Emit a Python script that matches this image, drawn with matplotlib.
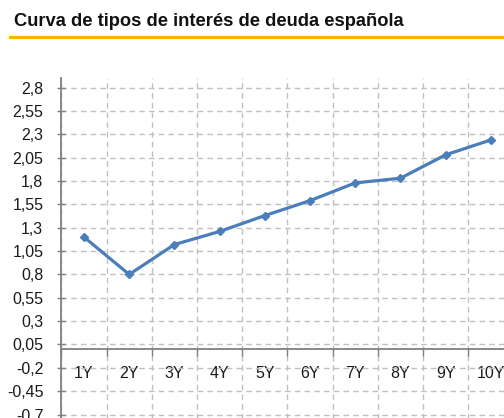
import numpy as np
import matplotlib
matplotlib.use('Agg')
import matplotlib.pyplot as plt
from matplotlib.ticker import FixedLocator, FuncFormatter
from matplotlib.lines import Line2D

# Curva de tipos de deuda española
plazos = ['1Y', '2Y', '3Y', '4Y', '5Y', '6Y', '7Y', '8Y', '9Y', '10Y']
tipos = [1.20, 0.80, 1.12, 1.26, 1.43, 1.59, 1.78, 1.83, 2.08, 2.24]
yticks = [-0.7, -0.45, -0.2, 0.05, 0.3, 0.55, 0.8, 1.05, 1.3, 1.55, 1.8, 2.05, 2.3, 2.55, 2.8]
titulo = 'Curva de tipos de interés de deuda española'

plt.rcParams['font.family'] = ['Liberation Sans', 'DejaVu Sans']

W, H = 504, 418
fig = plt.figure(figsize=(W / 100, H / 100), dpi=100)

# position of the plot area in pixels (it runs past the right edge, like the source)
px_left, px_width = 61.4, 452.0
px_top, px_height = 78.3, 340.9
ax = fig.add_axes([px_left / W, 1 - (px_top + px_height) / H, px_width / W, px_height / H])

x = np.arange(len(plazos))
ax.plot(x, tipos, color='#4A7EBB', lw=2.3, marker='D', ms=4.5, zorder=3, clip_on=False)

ax.set_xlim(-0.5, len(plazos) - 0.5)
ax.set_ylim(-0.75, 2.9)

ax.yaxis.set_major_locator(FixedLocator(yticks))
ax.yaxis.set_major_formatter(FuncFormatter(lambda v, p: ('%g' % round(v, 2)).replace('.', ',')))
ax.set_xticks(x)
ax.set_xticklabels(plazos)
ax.xaxis.set_minor_locator(FixedLocator(np.arange(len(plazos) + 1) - 0.5))

for s in ['top', 'right']:
    ax.spines[s].set_visible(False)
ax.spines['bottom'].set_position(('data', 0))
for s in ['left', 'bottom']:
    ax.spines[s].set_color('#808080')
    ax.spines[s].set_linewidth(1.3)

ax.tick_params(axis='y', which='major', direction='inout', length=6, width=1,
               color='#808080', labelsize=11.5, labelcolor='#1a1a1a', pad=10)
ax.tick_params(axis='x', which='major', length=0, labelsize=11.5, labelcolor='#1a1a1a', pad=12)
ax.tick_params(axis='x', which='minor', direction='out', length=5, width=1, color='#808080')

ax.grid(True, axis='y', which='major', color='#C0C0C0', ls=(0, (4, 3)), lw=1)
ax.grid(True, axis='x', which='minor', color='#C0C0C0', ls=(0, (4, 3)), lw=1)
ax.set_axisbelow(True)

fig.text(14 / W, 1 - 21.5 / H, titulo, fontsize=13.2, fontweight='bold', va='center', ha='left', color='#111111')
fig.add_artist(Line2D([10 / W, 1], [1 - 37.3 / H] * 2, color='#F7B500', lw=2.2))

fig.savefig('out.png', dpi=100)
